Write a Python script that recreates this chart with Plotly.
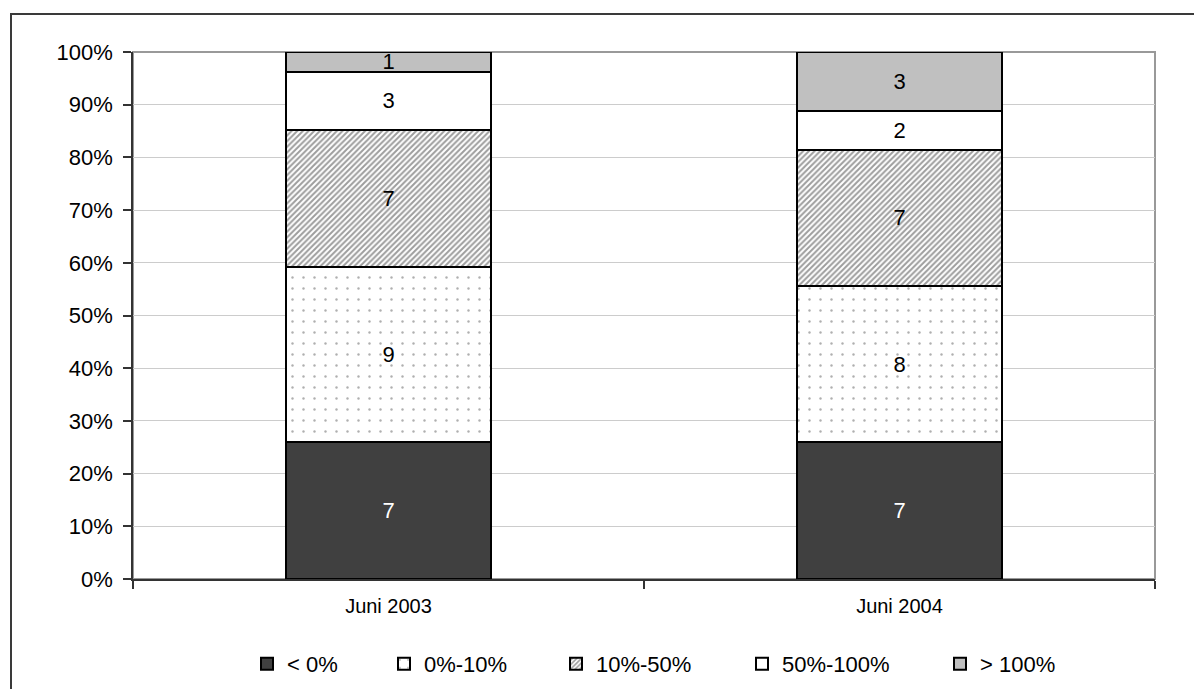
import plotly.graph_objects as go

# Survey dates on the category axis
periods = ["Juni 2003", "Juni 2004"]

# Number of cases per change class (stacked bottom to top)
below_0 = [7, 7]
pct_0_10 = [9, 8]
pct_10_50 = [7, 7]
pct_50_100 = [3, 2]
above_100 = [1, 3]

class_names = ["< 0%", "0%-10%", "10%-50%", "50%-100%", "> 100%"]
y_ticks = list(range(0, 101, 10))
y_tick_text = [f"{v}%" for v in y_ticks]

FONT = "Liberation Sans, Arial, sans-serif"

series = [
    (class_names[0], below_0, dict(color="#404040"), "#ffffff"),
    (class_names[1], pct_0_10,
     dict(color="#ffffff", pattern=dict(shape=".", fgcolor="#606060", bgcolor="#ffffff",
                                         size=11, solidity=0.04, fillmode="overlay")), "#000000"),
    (class_names[2], pct_10_50,
     dict(color="#ffffff", pattern=dict(shape="/", fgcolor="#3c3c3c", bgcolor="#ffffff",
                                         size=4, solidity=0.5, fillmode="overlay")), "#000000"),
    (class_names[3], pct_50_100, dict(color="#ffffff"), "#000000"),
    (class_names[4], above_100, dict(color="#c0c0c0"), "#000000"),
]

# Each legend entry gets its own legend box so they can be spaced freely
legend_ids = ["legend", "legend2", "legend3", "legend4", "legend5"]
legend_x_px = [247, 384, 556, 742, 940]
PLOT_L, PLOT_R, PLOT_T, PLOT_B = 133, 1155, 52, 579
PW, PH = PLOT_R - PLOT_L, PLOT_B - PLOT_T

fig = go.Figure()
for (name, vals, marker, txtcol), lid in zip(series, legend_ids):
    marker = dict(marker)
    marker["line"] = dict(color="#000000", width=2)
    fig.add_trace(go.Bar(
        x=periods, y=vals, name=name, marker=marker,
        text=[str(v) for v in vals], textposition="inside",
        insidetextanchor="middle", textangle=0, constraintext="none",
        textfont=dict(family=FONT, size=22, color=txtcol),
        width=0.4, legend=lid, hoverinfo="skip",
    ))

layout_legends = {}
legend_y = (PLOT_B - 664) / PH
for lid, xpx in zip(legend_ids, legend_x_px):
    layout_legends[lid] = dict(
        x=(xpx - PLOT_L) / PW, xanchor="left",
        y=legend_y, yanchor="middle",
        orientation="h", bgcolor="rgba(0,0,0,0)", borderwidth=0,
        font=dict(family=FONT, size=22, color="#000000"),
        itemclick=False, itemdoubleclick=False,
    )

fig.update_layout(
    width=1194, height=689,
    margin=dict(l=PLOT_L, r=1194 - PLOT_R, t=PLOT_T, b=689 - PLOT_B, autoexpand=False),
    paper_bgcolor="#ffffff", plot_bgcolor="#ffffff",
    barmode="stack", barnorm="percent",
    font=dict(family=FONT, color="#000000"),
    showlegend=True,
    **layout_legends,
)

fig.update_yaxes(
    range=[0, 100], tickmode="array", tickvals=y_ticks, ticktext=y_tick_text,
    showgrid=True, gridcolor="#cccccc", gridwidth=1,
    showline=True, linecolor="#333333", linewidth=1.5,
    ticks="outside", ticklen=8, tickcolor="#333333", tickwidth=1.5,
    ticklabelstandoff=6, automargin=False,
    tickfont=dict(family=FONT, size=22, color="#000000"),
    zeroline=False, fixedrange=True,
)
fig.update_xaxes(
    type="category", range=[-0.5, 1.5], tickson="boundaries",
    showgrid=False, automargin=False,
    showline=True, linecolor="#333333", linewidth=1.5,
    ticks="outside", ticklen=8, tickcolor="#333333", tickwidth=1.5,
    ticklabelstandoff=8,
    tickfont=dict(family=FONT, size=20, color="#000000"),
    fixedrange=True,
)

# Plot-area frame (grey, top and right) and outer chart frame
fig.add_shape(type="rect", xref="paper", yref="paper", x0=0, y0=0, x1=1, y1=1,
              line=dict(color="#999999", width=2), layer="below")
fig.add_shape(type="rect", xref="paper", yref="paper",
              x0=-(PLOT_L - 11) / PW, y0=-0.4, x1=1.2, y1=1 + (PLOT_T - 14) / PH,
              line=dict(color="#3a3a3a", width=2), layer="below")

fig.write_html("out.html")
